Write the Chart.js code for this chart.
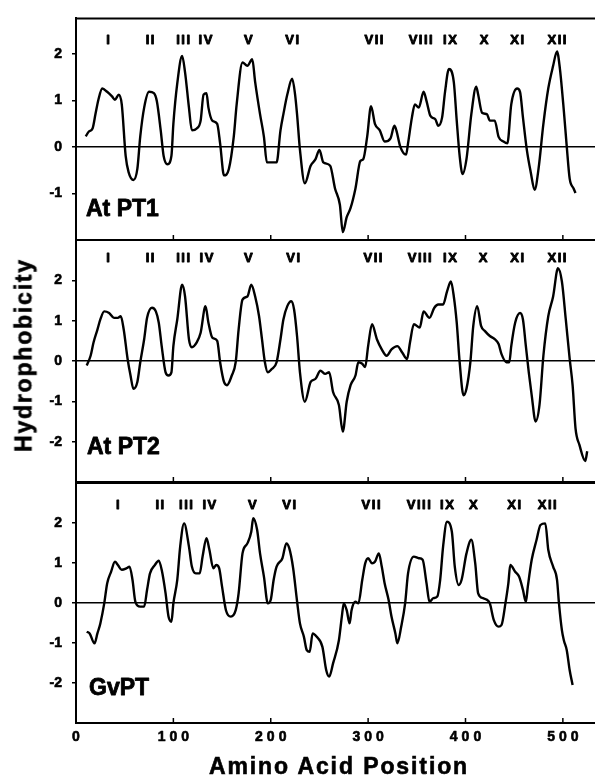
<!DOCTYPE html>
<html lang="en">
<head>
<meta charset="UTF-8">
<title>Hydrophobicity plots</title>
<script src="https://cdn.jsdelivr.net/npm/chart.js"></script>
<style>
  body { margin: 0; background: #fff; font-family: 'Liberation Sans', Arial, sans-serif; }
  #wrap { position: relative; width: 595px; height: 781px; }
  canvas { position: absolute; left: 0; top: 0; }
  .title { position: absolute; font-weight: bold; font-size: 23px; line-height: 23px; color: #000; white-space: nowrap; -webkit-text-stroke: 0.6px #000; }
  #ytitle { left: 24px; top: 355px; transform: translate(-50%, -50%) rotate(-90deg); letter-spacing: 1.8px; }
  #xtitle { left: 339px; top: 755px; transform: translateX(-50%); letter-spacing: 1.9px; }
</style>
</head>
<body>
<div id="wrap">
  <canvas id="c1" width="595" height="781"></canvas>
  <canvas id="c2" width="595" height="781"></canvas>
  <canvas id="c3" width="595" height="781"></canvas>
  <div id="ytitle" class="title">Hydrophobicity</div>
  <div id="xtitle" class="title">Amino Acid Position</div>
</div>
<script>
// helix labels and where they sit on the sequence
const helixNames = ['I', 'II', 'III', 'IV', 'V', 'VI', 'VII', 'VIII', 'IX', 'X', 'XI', 'XII'];
const at1Helix = [33, 76, 110, 133, 177, 222, 306, 354, 384, 419, 453, 494];
const at2Helix = [33, 76, 110, 134, 177, 223, 305, 353, 384, 418, 453, 494];
const gvHelix = [43, 86, 113, 137, 181, 219, 303, 352, 381, 408, 450, 484];

const xTicks = [0, 100, 200, 300, 400, 500];
const at1Ticks = [-1, 0, 1, 2];
const otherTicks = [-2, -1, 0, 1, 2];

// AtPT1
const at1X = [10,13,17,20,23,27,32,37,40,44,47,51,54,59,63,66,70,75,80,83,87,90,94,98,100,104,109,112,116,119,
  124,128,131,134,136,140,145,148,152,157,162,165,171,176,181,184,189,193,196,201,206,210,213,217,222,225,227,230,235,241,
  246,250,254,261,266,271,274,278,282,287,292,295,299,303,307,312,317,323,327,329,333,339,341,345,348,352,357,360,364,369,
  372,376,379,383,388,391,394,397,401,406,411,413,417,422,425,430,434,439,443,447,453,456,459,463,467,471,475,480,485,490,
  494,497,501,504,507,511,513];
const at1Y = [0.23,0.33,0.40,0.71,1.02,1.26,1.19,1.09,1.02,1.13,0.92,-0.19,-0.54,-0.71,-0.47,0.23,0.85,1.19,1.16,0.99,0.36,-0.19,-0.37,-0.19,0.50,1.37,1.96,1.61,0.85,0.36,
  0.40,0.57,1.13,1.16,0.85,0.57,0.50,0.08,-0.61,-0.47,0.22,0.92,1.82,1.75,1.89,1.40,0.71,0.22,-0.33,-0.33,-0.33,0.36,0.71,1.13,1.47,1.13,0.71,-0.06,-0.78,-0.40,
  -0.26,-0.06,-0.33,-0.40,-0.89,-1.24,-1.83,-1.51,-1.31,-0.89,-0.30,-0.26,0.22,0.88,0.50,0.36,0.12,0.19,0.46,0.36,0.01,-0.16,0.08,0.64,0.92,0.85,1.19,0.99,0.67,0.60,
  0.46,0.64,1.19,1.68,1.40,0.57,-0.19,-0.58,-0.26,0.71,1.30,1.13,0.74,0.71,0.57,0.57,0.22,0.12,0.08,0.92,1.26,1.19,0.64,-0.06,-0.54,-0.92,-0.47,0.50,1.26,1.75,
  2.06,1.68,0.78,0.01,-0.68,-0.89,-0.99];

// AtPT2
const at2X = [11,15,18,22,25,29,34,39,43,46,49,53,56,59,63,66,70,73,78,82,85,88,92,95,98,100,104,109,112,116,
  119,124,128,133,136,140,145,148,152,155,160,164,167,171,176,180,184,188,191,194,197,201,206,210,213,217,221,224,227,230,
  235,241,246,251,256,260,264,270,274,278,282,287,290,294,297,300,304,309,314,319,324,330,335,340,343,347,353,357,363,368,
  372,377,381,385,388,391,394,398,401,405,408,412,416,420,425,430,434,437,442,445,447,451,456,459,462,465,468,472,476,480,
  485,490,495,499,503,507,510,513,517,523,525];
const at2Y = [-0.11,0.13,0.46,0.78,1.03,1.23,1.19,1.07,1.07,1.11,0.78,0.05,-0.36,-0.69,-0.52,-0.03,0.54,1.07,1.32,1.23,0.95,0.37,-0.28,-0.36,-0.28,0.37,1.03,1.89,1.60,0.54,
  0.34,0.46,0.70,1.36,0.95,0.58,0.50,-0.03,-0.52,-0.60,-0.36,-0.03,0.78,1.52,1.60,1.89,1.60,1.11,0.54,-0.03,-0.28,-0.20,-0.03,0.54,1.03,1.36,1.48,1.27,0.62,-0.28,
  -1.01,-0.52,-0.44,-0.24,-0.32,-0.28,-0.77,-1.09,-1.75,-1.01,-0.60,-0.36,-0.03,-0.07,-0.15,0.37,0.91,0.54,0.29,0.13,0.29,0.37,0.21,0.05,0.46,0.91,0.83,1.23,1.07,1.32,
  1.40,1.40,1.72,1.97,1.60,0.95,-0.03,-0.85,-0.69,-0.03,0.87,1.36,0.87,0.74,0.62,0.54,0.42,0.17,-0.03,-0.03,0.37,0.95,1.19,1.03,0.37,-0.28,-0.85,-1.50,-1.09,0.13,
  1.11,1.60,2.30,1.97,1.03,0.05,-0.60,-1.67,-2.08,-2.48,-2.24];

// GvPT
const gvX = [11,14,19,22,25,29,32,36,40,43,47,52,55,58,61,66,70,73,76,81,85,88,92,95,98,100,104,107,111,116,
  119,123,127,130,134,137,141,144,147,150,154,159,164,167,171,176,180,182,186,189,193,197,200,203,206,212,216,219,223,227,
  230,234,237,240,243,247,253,257,260,264,270,273,275,278,281,283,287,290,294,297,300,304,307,311,314,317,321,324,328,330,
  334,338,341,347,352,356,360,363,367,371,374,377,381,386,389,393,396,401,406,410,413,418,422,425,429,434,437,441,444,446,
  451,455,459,462,464,468,473,477,482,485,490,494,496,499,501,504,507,510];
const gvY = [-0.72,-0.76,-1.01,-0.76,-0.51,-0.01,0.49,0.78,1.03,0.95,0.83,0.87,0.91,0.58,0.03,-0.09,-0.09,0.33,0.74,0.95,1.06,0.83,0.24,-0.34,-0.47,-0.01,0.58,1.41,1.99,1.41,
  0.91,0.74,0.74,1.16,1.62,1.33,0.87,0.95,0.87,0.41,-0.18,-0.34,-0.18,0.24,1.24,1.49,1.78,2.12,1.83,1.24,0.66,-0.01,0.08,0.58,0.91,1.12,1.49,1.37,0.87,0.05,
  -0.51,-0.84,-1.18,-1.22,-0.76,-0.84,-1.09,-1.68,-1.84,-1.51,-0.93,-0.34,-0.01,-0.18,-0.51,-0.18,0.03,-0.01,0.58,0.99,1.12,0.99,1.03,1.24,0.91,0.49,0.08,-0.34,-0.76,-1.01,
  -0.59,-0.01,0.74,1.16,1.12,1.08,0.49,0.03,0.12,0.16,0.58,1.41,2.03,1.78,0.91,0.45,0.58,1.24,1.58,0.99,0.24,0.12,0.08,-0.01,-0.42,-0.59,-0.55,-0.01,0.49,0.95,
  0.78,0.66,0.33,0.03,0.41,1.08,1.58,1.95,1.99,1.33,0.91,0.58,-0.01,-0.68,-0.93,-1.18,-1.68,-2.05];

const family = "'Liberation Sans', Arial, sans-serif";

// draw text with a thin outline so it looks as heavy as the printed labels
function heavyText(ctx, s, x, y, w) {
  ctx.lineWidth = w;
  ctx.strokeText(s, x, y);
  ctx.fillText(s, x, y);
}

// frame top line, inward x ticks, helix numerals, panel name
function decorPlugin(d) {
  return {
    id: 'panelDecor',
    afterDraw(chart) {
      const { ctx, chartArea: a } = chart;
      const x = chart.scales.x;
      ctx.save();
      ctx.strokeStyle = '#000';
      ctx.fillStyle = '#000';
      ctx.lineWidth = 2;
      ctx.beginPath();
      ctx.moveTo(a.left - 1, a.top);
      ctx.lineTo(a.right, a.top);
      ctx.stroke();

      ctx.lineWidth = 1.5;
      xTicks.forEach(v => {
        const px = x.getPixelForValue(v);
        ctx.beginPath();
        ctx.moveTo(px, a.bottom);
        ctx.lineTo(px, a.bottom - 5);
        ctx.stroke();
      });

      ctx.lineJoin = 'round';
      ctx.font = 'bold 13px ' + family;
      ctx.letterSpacing = '1.5px';
      ctx.textAlign = 'center';
      ctx.textBaseline = 'middle';
      d.helix.forEach((v, i) => heavyText(ctx, helixNames[i], x.getPixelForValue(v) + 0.75, a.top + d.helixTop, 0.9));

      ctx.letterSpacing = '0px';
      ctx.font = 'bold 23px ' + family;
      ctx.textAlign = 'left';
      ctx.textBaseline = 'alphabetic';
      heavyText(ctx, d.name, a.left + d.nameLeft, a.bottom - d.nameBottom, 0.8);

      if (d.xLabels) {
        ctx.font = 'bold 14px ' + family;
        ctx.letterSpacing = '4px';
        ctx.textAlign = 'center';
        ctx.textBaseline = 'middle';
        xTicks.forEach(v => heavyText(ctx, String(v), x.getPixelForValue(v) + 2, a.bottom + 14, 0.6));
      }
      ctx.restore();
    }
  };
}

function makePanel(id, xs, ys, yMin, yMax, tickVals, top, bottom, decor) {
  return new Chart(document.getElementById(id), {
    type: 'line',
    data: {
      datasets: [{
        data: xs.map((x, i) => ({ x: x, y: ys[i] })),
        borderColor: '#000',
        borderWidth: 2.4,
        pointRadius: 0,
        cubicInterpolationMode: 'monotone',
        fill: false
      }]
    },
    options: {
      responsive: false,
      animation: false,
      layout: { padding: { top: top, bottom: 781 - bottom, left: 36, right: 0 } },
      plugins: { legend: { display: false }, tooltip: { enabled: false } },
      scales: {
        x: {
          type: 'linear', min: 0, max: 533,
          afterBuildTicks: s => { s.ticks = xTicks.map(v => ({ value: v })); },
          afterFit: s => { s.height = 0; },
          ticks: { display: false },
          grid: { drawOnChartArea: false, drawTicks: false },
          border: { color: '#000', width: 2 }
        },
        y: {
          min: yMin, max: yMax,
          afterBuildTicks: s => { s.ticks = tickVals.map(v => ({ value: v })); },
          afterFit: s => { s.width = 40; },
          ticks: {
            color: '#000', padding: 10,
            textStrokeColor: '#000', textStrokeWidth: 0.6,
            font: { family: family, size: 14, weight: 'bold' }
          },
          grid: {
            color: c => (c.tick && c.tick.value === 0) ? '#000' : 'rgba(0,0,0,0)',
            lineWidth: 1.5,
            tickLength: 4,
            tickColor: '#000',
            tickWidth: 1.5
          },
          border: { color: '#000', width: 2 }
        }
      }
    },
    plugins: [decorPlugin(decor)]
  });
}

makePanel('c1', at1X, at1Y, -2, 2.77, at1Ticks, 11, 240,
  { helix: at1Helix, helixTop: 22, name: 'At PT1', nameLeft: 10, nameBottom: 24, xLabels: false });
makePanel('c2', at2X, at2Y, -3, 3, otherTicks, 240, 482,
  { helix: at2Helix, helixTop: 18, name: 'At PT2', nameLeft: 11, nameBottom: 28, xLabels: false });
makePanel('c3', gvX, gvY, -3, 3, otherTicks, 483, 723,
  { helix: gvHelix, helixTop: 22, name: 'GvPT', nameLeft: 13, nameBottom: 28, xLabels: true });
</script>
</body>
</html>
